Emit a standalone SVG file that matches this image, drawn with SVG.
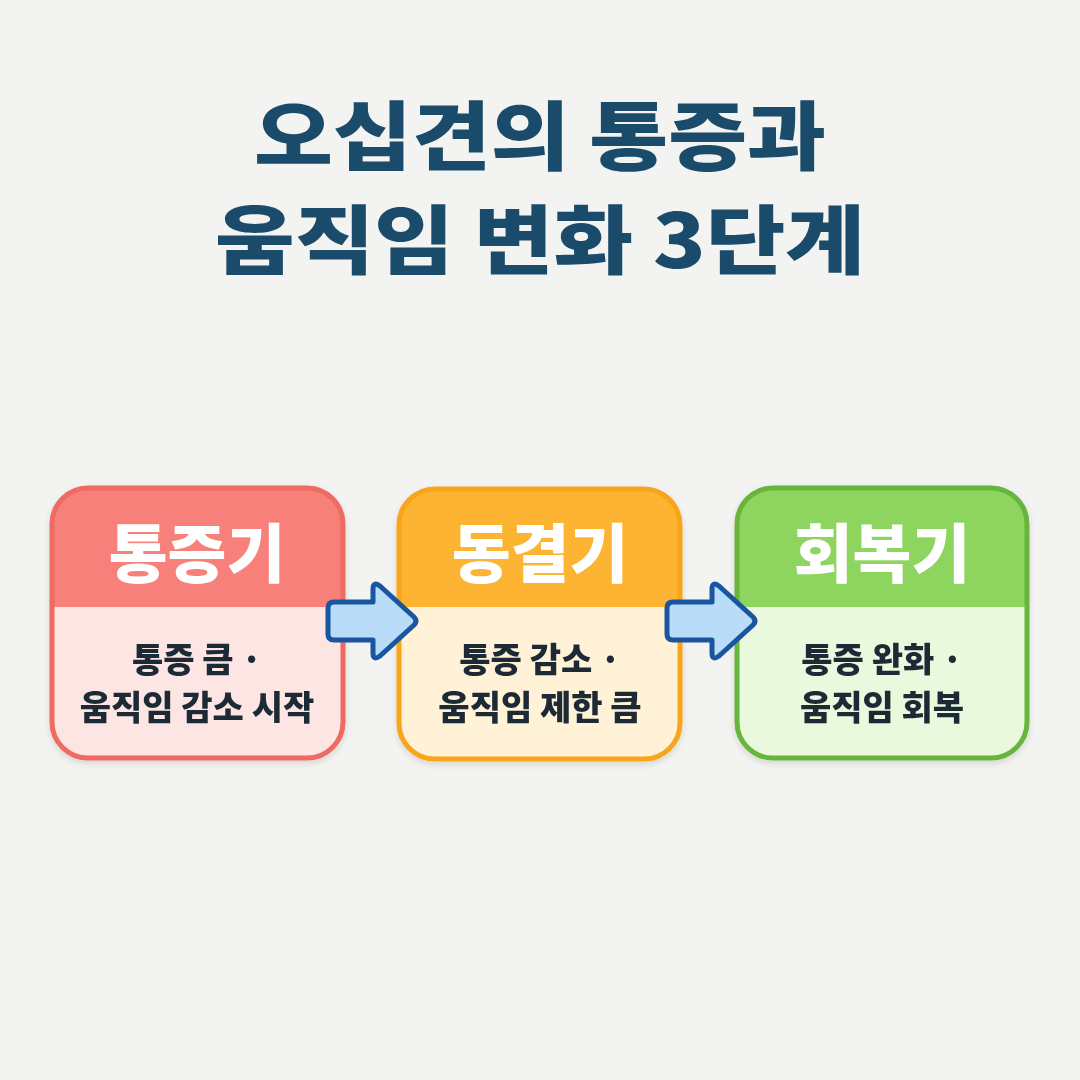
<svg xmlns="http://www.w3.org/2000/svg" width="1080" height="1080" viewBox="0 0 1080 1080">
<defs>
<style>
.title{font-family:"Noto Sans CJK KR","Noto Sans",sans-serif;font-weight:900;font-size:75px;fill:#1A4B6A;text-anchor:middle}
.head{font-family:"Noto Sans CJK KR","Noto Sans",sans-serif;font-weight:900;font-size:64px;fill:#ffffff;text-anchor:middle}
.body{font-family:"Noto Sans CJK KR","Noto Sans",sans-serif;font-weight:900;font-size:34px;fill:#1F2A36;text-anchor:middle}
.arrow{fill:#B9DDF8;stroke:#1A55A0;stroke-width:5;stroke-linejoin:round}
</style>
<filter id="sh" x="-10%" y="-10%" width="120%" height="130%">
<feDropShadow dx="0" dy="3" stdDeviation="3" flood-color="#000" flood-opacity="0.12"/>
</filter>
<clipPath id="c1"><rect x="52" y="488" width="291" height="270" rx="36"/></clipPath>
<clipPath id="c2"><rect x="399" y="489" width="281" height="270" rx="36"/></clipPath>
<clipPath id="c3"><rect x="737" y="488" width="290" height="270" rx="36"/></clipPath>
</defs>
<rect width="1080" height="1080" fill="#F3F3F1"/>
<g id="title">
<text class="title" x="540" y="164" textLength="572" lengthAdjust="spacingAndGlyphs">오십견의 통증과</text>
<text class="title" x="540" y="268" textLength="650" lengthAdjust="spacingAndGlyphs">움직임 변화 3단계</text>
</g>
<g id="node1" filter="url(#sh)">
<g clip-path="url(#c1)">
<rect x="52" y="488" width="291" height="270" fill="#FDE5E3"/>
<path d="M52 488 H343 V607 H52 Z" fill="#F7817A"/>
</g>
<rect x="52" y="488" width="291" height="270" rx="36" fill="none" stroke="#EE6A62" stroke-width="5"/>
<text class="head" x="197" y="577">통증기</text>
<text class="body" x="197" y="672">통증 큼 ·</text>
<text class="body" x="197" y="720">움직임 감소 시작</text>
</g>
<g id="node2" filter="url(#sh)">
<g clip-path="url(#c2)">
<rect x="399" y="489" width="281" height="270" fill="#FFF2D6"/>
<path d="M399 489 H680 V607 H399 Z" fill="#FCB431"/>
</g>
<rect x="399" y="489" width="281" height="270" rx="36" fill="none" stroke="#F8A51C" stroke-width="5"/>
<text class="head" x="540" y="577">동결기</text>
<text class="body" x="540" y="672">통증 감소 ·</text>
<text class="body" x="540" y="720">움직임 제한 큼</text>
</g>
<g id="node3" filter="url(#sh)">
<g clip-path="url(#c3)">
<rect x="737" y="488" width="290" height="270" fill="#EAF8DE"/>
<path d="M737 488 H1027 V607 H737 Z" fill="#8ED55E"/>
</g>
<rect x="737" y="488" width="290" height="270" rx="36" fill="none" stroke="#67B53C" stroke-width="5"/>
<text class="head" x="882" y="577">회복기</text>
<text class="body" x="882" y="672">통증 완화 ·</text>
<text class="body" x="882" y="720">움직임 회복</text>
</g>
<g id="connectors">
<path class="arrow" d="M334 602 H373 V589 Q373 581 380 586 L414 617 Q418 621 414 625 L380 656 Q373 661 373 653 V640 H334 Q328 640 328 634 V608 Q328 602 334 602 Z"/>
<path class="arrow" d="M673 602 H712 V589 Q712 581 719 586 L753 617 Q757 621 753 625 L719 656 Q712 661 712 653 V640 H673 Q667 640 667 634 V608 Q667 602 673 602 Z"/>
</g>
</svg>
